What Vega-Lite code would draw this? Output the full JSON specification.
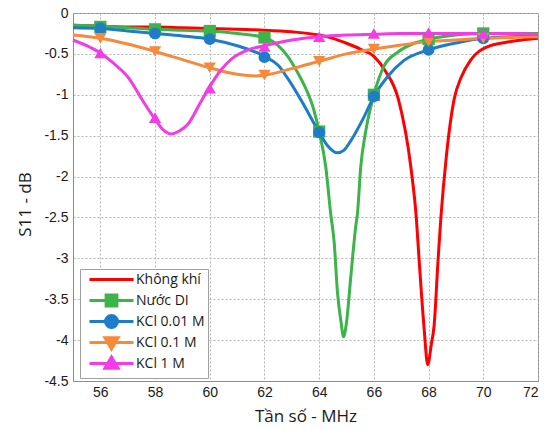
{
  "$schema": "https://vega.github.io/schema/vega-lite/v6.json",
  "width": 465,
  "height": 368,
  "autosize": {"type": "none"},
  "padding": {"left": 73, "top": 13, "right": 8, "bottom": 49},
  "background": "white",
  "datasets": {
    "curves": [
      {"series": "Không khí", "x": 55, "y": -0.15},
      {"series": "Không khí", "x": 56, "y": -0.16},
      {"series": "Không khí", "x": 57, "y": -0.17},
      {"series": "Không khí", "x": 58, "y": -0.17},
      {"series": "Không khí", "x": 59, "y": -0.18},
      {"series": "Không khí", "x": 60, "y": -0.19},
      {"series": "Không khí", "x": 61, "y": -0.2},
      {"series": "Không khí", "x": 62, "y": -0.21},
      {"series": "Không khí", "x": 63, "y": -0.23},
      {"series": "Không khí", "x": 64, "y": -0.27},
      {"series": "Không khí", "x": 64.5, "y": -0.31},
      {"series": "Không khí", "x": 65, "y": -0.37},
      {"series": "Không khí", "x": 65.5, "y": -0.44},
      {"series": "Không khí", "x": 66, "y": -0.53},
      {"series": "Không khí", "x": 66.4, "y": -0.7},
      {"series": "Không khí", "x": 66.9, "y": -1.06},
      {"series": "Không khí", "x": 67.35, "y": -1.88},
      {"series": "Không khí", "x": 67.55, "y": -2.5},
      {"series": "Không khí", "x": 67.65, "y": -3.0},
      {"series": "Không khí", "x": 67.83, "y": -3.83},
      {"series": "Không khí", "x": 67.97, "y": -4.3},
      {"series": "Không khí", "x": 68.1, "y": -4.05},
      {"series": "Không khí", "x": 68.2, "y": -3.83},
      {"series": "Không khí", "x": 68.35, "y": -3.0},
      {"series": "Không khí", "x": 68.45, "y": -2.5},
      {"series": "Không khí", "x": 68.65, "y": -1.75},
      {"series": "Không khí", "x": 68.93, "y": -1.06},
      {"series": "Không khí", "x": 69.2, "y": -0.78},
      {"series": "Không khí", "x": 69.55, "y": -0.57},
      {"series": "Không khí", "x": 70.17, "y": -0.41},
      {"series": "Không khí", "x": 70.8, "y": -0.36},
      {"series": "Không khí", "x": 71.4, "y": -0.33},
      {"series": "Không khí", "x": 72, "y": -0.31},

      {"series": "Nước DI", "x": 55, "y": -0.15},
      {"series": "Nước DI", "x": 56, "y": -0.16},
      {"series": "Nước DI", "x": 57, "y": -0.18},
      {"series": "Nước DI", "x": 58, "y": -0.2},
      {"series": "Nước DI", "x": 59, "y": -0.21},
      {"series": "Nước DI", "x": 60, "y": -0.22},
      {"series": "Nước DI", "x": 61, "y": -0.25},
      {"series": "Nước DI", "x": 62, "y": -0.3},
      {"series": "Nước DI", "x": 62.5, "y": -0.4},
      {"series": "Nước DI", "x": 62.85, "y": -0.53},
      {"series": "Nước DI", "x": 63.2, "y": -0.72},
      {"series": "Nước DI", "x": 63.45, "y": -0.88},
      {"series": "Nước DI", "x": 63.8, "y": -1.18},
      {"series": "Nước DI", "x": 64, "y": -1.45},
      {"series": "Nước DI", "x": 64.24, "y": -1.88},
      {"series": "Nước DI", "x": 64.42, "y": -2.45},
      {"series": "Nước DI", "x": 64.55, "y": -2.81},
      {"series": "Nước DI", "x": 64.67, "y": -3.42},
      {"series": "Nước DI", "x": 64.8, "y": -3.78},
      {"series": "Nước DI", "x": 64.89, "y": -3.96},
      {"series": "Nước DI", "x": 65.0, "y": -3.78},
      {"series": "Nước DI", "x": 65.16, "y": -3.21},
      {"series": "Nước DI", "x": 65.34, "y": -2.6},
      {"series": "Nước DI", "x": 65.4, "y": -2.45},
      {"series": "Nước DI", "x": 65.52, "y": -1.88},
      {"series": "Nước DI", "x": 65.7, "y": -1.45},
      {"series": "Nước DI", "x": 66, "y": -1.0},
      {"series": "Nước DI", "x": 66.37, "y": -0.65},
      {"series": "Nước DI", "x": 66.87, "y": -0.48},
      {"series": "Nước DI", "x": 67.47, "y": -0.37},
      {"series": "Nước DI", "x": 68, "y": -0.32},
      {"series": "Nước DI", "x": 68.7, "y": -0.28},
      {"series": "Nước DI", "x": 69.3, "y": -0.26},
      {"series": "Nước DI", "x": 70, "y": -0.25},
      {"series": "Nước DI", "x": 71, "y": -0.25},
      {"series": "Nước DI", "x": 72, "y": -0.25},

      {"series": "KCl 0.01 M", "x": 55, "y": -0.18},
      {"series": "KCl 0.01 M", "x": 56, "y": -0.19},
      {"series": "KCl 0.01 M", "x": 57, "y": -0.22},
      {"series": "KCl 0.01 M", "x": 58, "y": -0.25},
      {"series": "KCl 0.01 M", "x": 59, "y": -0.28},
      {"series": "KCl 0.01 M", "x": 60, "y": -0.32},
      {"series": "KCl 0.01 M", "x": 61, "y": -0.4},
      {"series": "KCl 0.01 M", "x": 62, "y": -0.53},
      {"series": "KCl 0.01 M", "x": 62.5, "y": -0.64},
      {"series": "KCl 0.01 M", "x": 62.85, "y": -0.8},
      {"series": "KCl 0.01 M", "x": 63.45, "y": -1.13},
      {"series": "KCl 0.01 M", "x": 64, "y": -1.46},
      {"series": "KCl 0.01 M", "x": 64.3, "y": -1.62},
      {"series": "KCl 0.01 M", "x": 64.67, "y": -1.71},
      {"series": "KCl 0.01 M", "x": 64.9, "y": -1.68},
      {"series": "KCl 0.01 M", "x": 65.16, "y": -1.56},
      {"series": "KCl 0.01 M", "x": 65.64, "y": -1.27},
      {"series": "KCl 0.01 M", "x": 66, "y": -1.02},
      {"series": "KCl 0.01 M", "x": 66.5, "y": -0.78},
      {"series": "KCl 0.01 M", "x": 67.1, "y": -0.58},
      {"series": "KCl 0.01 M", "x": 68, "y": -0.45},
      {"series": "KCl 0.01 M", "x": 69.1, "y": -0.36},
      {"series": "KCl 0.01 M", "x": 70, "y": -0.31},
      {"series": "KCl 0.01 M", "x": 71, "y": -0.29},
      {"series": "KCl 0.01 M", "x": 72, "y": -0.28},

      {"series": "KCl 0.1 M", "x": 55, "y": -0.27},
      {"series": "KCl 0.1 M", "x": 56, "y": -0.31},
      {"series": "KCl 0.1 M", "x": 57, "y": -0.38},
      {"series": "KCl 0.1 M", "x": 58, "y": -0.47},
      {"series": "KCl 0.1 M", "x": 59, "y": -0.57},
      {"series": "KCl 0.1 M", "x": 60, "y": -0.67},
      {"series": "KCl 0.1 M", "x": 61, "y": -0.75},
      {"series": "KCl 0.1 M", "x": 61.7, "y": -0.77},
      {"series": "KCl 0.1 M", "x": 62, "y": -0.76},
      {"series": "KCl 0.1 M", "x": 63, "y": -0.68},
      {"series": "KCl 0.1 M", "x": 64, "y": -0.59},
      {"series": "KCl 0.1 M", "x": 65, "y": -0.5},
      {"series": "KCl 0.1 M", "x": 66, "y": -0.44},
      {"series": "KCl 0.1 M", "x": 67, "y": -0.39},
      {"series": "KCl 0.1 M", "x": 68, "y": -0.35},
      {"series": "KCl 0.1 M", "x": 69, "y": -0.33},
      {"series": "KCl 0.1 M", "x": 70, "y": -0.31},
      {"series": "KCl 0.1 M", "x": 71, "y": -0.3},
      {"series": "KCl 0.1 M", "x": 72, "y": -0.29},

      {"series": "KCl 1 M", "x": 55, "y": -0.33},
      {"series": "KCl 1 M", "x": 55.5, "y": -0.4},
      {"series": "KCl 1 M", "x": 56, "y": -0.49},
      {"series": "KCl 1 M", "x": 56.5, "y": -0.62},
      {"series": "KCl 1 M", "x": 57, "y": -0.78},
      {"series": "KCl 1 M", "x": 57.6, "y": -1.1},
      {"series": "KCl 1 M", "x": 58, "y": -1.3},
      {"series": "KCl 1 M", "x": 58.3, "y": -1.43},
      {"series": "KCl 1 M", "x": 58.6, "y": -1.48},
      {"series": "KCl 1 M", "x": 58.9, "y": -1.44},
      {"series": "KCl 1 M", "x": 59.2, "y": -1.36},
      {"series": "KCl 1 M", "x": 59.65, "y": -1.1},
      {"series": "KCl 1 M", "x": 60, "y": -0.9},
      {"series": "KCl 1 M", "x": 60.4, "y": -0.7},
      {"series": "KCl 1 M", "x": 60.8, "y": -0.56},
      {"series": "KCl 1 M", "x": 61.4, "y": -0.45},
      {"series": "KCl 1 M", "x": 62, "y": -0.4},
      {"series": "KCl 1 M", "x": 63, "y": -0.33},
      {"series": "KCl 1 M", "x": 64, "y": -0.29},
      {"series": "KCl 1 M", "x": 65, "y": -0.27},
      {"series": "KCl 1 M", "x": 66, "y": -0.26},
      {"series": "KCl 1 M", "x": 67, "y": -0.25},
      {"series": "KCl 1 M", "x": 68, "y": -0.25},
      {"series": "KCl 1 M", "x": 69, "y": -0.25},
      {"series": "KCl 1 M", "x": 70, "y": -0.25},
      {"series": "KCl 1 M", "x": 71, "y": -0.25},
      {"series": "KCl 1 M", "x": 72, "y": -0.26}
    ],
    "markers": [
      {"series": "Nước DI", "x": 56, "y": -0.17},
      {"series": "Nước DI", "x": 58, "y": -0.2},
      {"series": "Nước DI", "x": 60, "y": -0.22},
      {"series": "Nước DI", "x": 62, "y": -0.3},
      {"series": "Nước DI", "x": 64, "y": -1.45},
      {"series": "Nước DI", "x": 66, "y": -1.0},
      {"series": "Nước DI", "x": 68, "y": -0.32},
      {"series": "Nước DI", "x": 70, "y": -0.25},
      {"series": "KCl 0.01 M", "x": 56, "y": -0.19},
      {"series": "KCl 0.01 M", "x": 58, "y": -0.25},
      {"series": "KCl 0.01 M", "x": 60, "y": -0.32},
      {"series": "KCl 0.01 M", "x": 62, "y": -0.54},
      {"series": "KCl 0.01 M", "x": 64, "y": -1.46},
      {"series": "KCl 0.01 M", "x": 66, "y": -1.02},
      {"series": "KCl 0.01 M", "x": 68, "y": -0.45},
      {"series": "KCl 0.01 M", "x": 70, "y": -0.31},
      {"series": "KCl 0.1 M", "x": 56, "y": -0.31},
      {"series": "KCl 0.1 M", "x": 58, "y": -0.47},
      {"series": "KCl 0.1 M", "x": 60, "y": -0.67},
      {"series": "KCl 0.1 M", "x": 62, "y": -0.76},
      {"series": "KCl 0.1 M", "x": 64, "y": -0.59},
      {"series": "KCl 0.1 M", "x": 66, "y": -0.44},
      {"series": "KCl 0.1 M", "x": 68, "y": -0.35},
      {"series": "KCl 0.1 M", "x": 70, "y": -0.31},
      {"series": "KCl 1 M", "x": 56, "y": -0.49},
      {"series": "KCl 1 M", "x": 58, "y": -1.28},
      {"series": "KCl 1 M", "x": 60, "y": -0.92},
      {"series": "KCl 1 M", "x": 62, "y": -0.41},
      {"series": "KCl 1 M", "x": 64, "y": -0.29},
      {"series": "KCl 1 M", "x": 66, "y": -0.25},
      {"series": "KCl 1 M", "x": 68, "y": -0.24},
      {"series": "KCl 1 M", "x": 70, "y": -0.25}
    ]
  },
  "config": {
    "view": {"stroke": "#8c8c8c", "strokeWidth": 1},
    "axis": {
      "domainColor": "#8c8c8c",
      "gridColor": "#b4b4b4",
      "gridDash": [2, 2],
      "gridWidth": 1,
      "ticks": false,
      "labelFont": "Liberation Sans",
      "labelFontSize": 14,
      "labelColor": "#1a1a1a",
      "titleFont": "Open Sans",
      "titleFontSize": 17,
      "titleFontWeight": "normal",
      "titleColor": "#1a1a1a"
    },
    "legend": {
      "orient": "none",
      "legendX": 7,
      "legendY": 256,
      "strokeColor": "#a0a0a0",
      "fillColor": "white",
      "padding": 3,
      "rowPadding": -6.5,
      "gridAlign": "all",
      "labelFont": "Open Sans",
      "labelFontSize": 14,
      "labelColor": "#1a1a1a",
      "labelOffset": 38,
      "symbolSize": 144,
      "symbolStrokeWidth": 3,
      "title": null
    }
  },
  "layer": [
    {
      "data": {"name": "curves"},
      "mark": {"type": "line", "strokeWidth": 3, "interpolate": "monotone"},
      "encoding": {
        "x": {"field": "x", "type": "quantitative", "scale": {"domain": [55, 72], "nice": false, "zero": false},
          "axis": {"values": [56, 58, 60, 62, 64, 66, 68, 70, 72], "title": "Tần số - MHz", "labelPadding": 4, "titlePadding": 9}},
        "y": {"field": "y", "type": "quantitative", "scale": {"domain": [-4.5, 0], "nice": false, "zero": false},
          "axis": {"values": [-4.5, -4, -3.5, -3, -2.5, -2, -1.5, -1, -0.5, 0], "labelExpr": "'' + datum.value", "title": "S11 - dB", "labelPadding": 5, "titleX": -39, "titleY": 191}},
        "color": {"field": "series", "type": "nominal",
          "scale": {"domain": ["Không khí", "Nước DI", "KCl 0.01 M", "KCl 0.1 M", "KCl 1 M"], "range": ["#ff0000", "#3cb44a", "#1f7cc6", "#f6893a", "#f23ce6"]}}
      }
    },
    {
      "data": {"name": "markers"},
      "transform": [{"filter": "datum.series == 'Nước DI'"}],
      "mark": {"type": "point", "shape": "square", "filled": true, "opacity": 1, "size": 150},
      "encoding": {
        "x": {"field": "x", "type": "quantitative"},
        "y": {"field": "y", "type": "quantitative"},
        "color": {"field": "series", "type": "nominal"}
      }
    },
    {
      "data": {"name": "markers"},
      "transform": [{"filter": "datum.series == 'KCl 0.01 M'"}],
      "mark": {"type": "point", "shape": "circle", "filled": true, "opacity": 1, "size": 140},
      "encoding": {
        "x": {"field": "x", "type": "quantitative"},
        "y": {"field": "y", "type": "quantitative"},
        "color": {"field": "series", "type": "nominal"}
      }
    },
    {
      "data": {"name": "markers"},
      "transform": [{"filter": "datum.series == 'KCl 0.1 M'"}],
      "mark": {"type": "point", "shape": "triangle-down", "filled": true, "opacity": 1, "size": 150},
      "encoding": {
        "x": {"field": "x", "type": "quantitative"},
        "y": {"field": "y", "type": "quantitative"},
        "color": {"field": "series", "type": "nominal"}
      }
    },
    {
      "data": {"name": "markers"},
      "transform": [{"filter": "datum.series == 'KCl 1 M'"}],
      "mark": {"type": "point", "shape": "triangle-up", "filled": true, "opacity": 1, "size": 150},
      "encoding": {
        "x": {"field": "x", "type": "quantitative"},
        "y": {"field": "y", "type": "quantitative"},
        "color": {"field": "series", "type": "nominal"}
      }
    },
    {
      "data": {"name": "markers"},
      "transform": [{"filter": "datum.x > 100"}],
      "mark": {"type": "point", "filled": true, "opacity": 1},
      "encoding": {
        "color": {"field": "series", "type": "nominal",
          "legend": {"encode": {"symbols": {"update": {"stroke": {"scale": "color", "field": "value"}, "fill": {"scale": "color", "field": "value"}, "strokeWidth": {"value": 3}, "opacity": {"value": 1}}}}}},
        "shape": {"field": "series", "type": "nominal",
          "scale": {"domain": ["Không khí", "Nước DI", "KCl 0.01 M", "KCl 0.1 M", "KCl 1 M"],
            "range": [
              "M-0.17,0H7.17",
              "M-0.17,0H7.17M2.6,-0.9H4.4V0.9H2.6Z",
              "M-0.17,0H7.17M2.5,0A1,1,0,1,1,4.5,0A1,1,0,1,1,2.5,0Z",
              "M-0.17,0H7.17M2.4,-0.8H4.6L3.5,1.1Z",
              "M-0.17,0H7.17M2.4,0.8H4.6L3.5,-1.1Z"
            ]}}
      }
    }
  ]
}
